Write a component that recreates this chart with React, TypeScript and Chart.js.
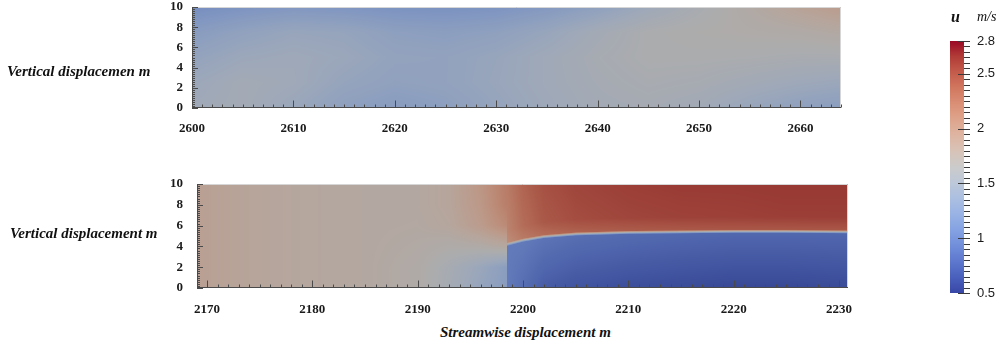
import React, { useEffect, useRef } from "react";
import { Chart, registerables } from "chart.js";

Chart.register(...registerables);

// ---------- data ----------
// colour scale (u, m/s)
const uMin = 0.5;
const uMax = 2.8;
const barTicks = [0.5, 1, 1.5, 2, 2.5, 2.8];

// top panel: streamwise 2600..2664, vertical 0..10
const topXRange = [2600, 2664];
const topTicksX = [2600, 2610, 2620, 2630, 2640, 2650, 2660];
const topX = [2600, 2605, 2610, 2615, 2620, 2625, 2630, 2635, 2640, 2645, 2650, 2655, 2660, 2664];
const topY = [0, 2.5, 5, 7.5, 10];
const topU_y0 = [1.5, 1.54, 1.44, 1.33, 1.28, 1.32, 1.4, 1.48, 1.54, 1.56, 1.52, 1.42, 1.34, 1.3];
const topU_y25 = [1.46, 1.54, 1.5, 1.4, 1.35, 1.37, 1.43, 1.5, 1.56, 1.6, 1.58, 1.53, 1.48, 1.45];
const topU_y5 = [1.38, 1.46, 1.49, 1.45, 1.38, 1.37, 1.42, 1.5, 1.58, 1.63, 1.63, 1.62, 1.6, 1.6];
const topU_y75 = [1.28, 1.36, 1.42, 1.4, 1.33, 1.31, 1.34, 1.42, 1.54, 1.63, 1.66, 1.68, 1.7, 1.74];
const topU_y10 = [1.12, 1.18, 1.22, 1.2, 1.17, 1.16, 1.18, 1.24, 1.34, 1.48, 1.6, 1.72, 1.84, 1.92];

// bottom panel: streamwise 2169..2231, vertical 0..10
const botXRange = [2169.05, 2230.85];
const botTicksX = [2170, 2180, 2190, 2200, 2210, 2220, 2230];
// smooth field upstream of the jet edge
const bgX = [2169, 2172, 2175, 2180, 2185, 2190, 2193, 2196, 2198.5];
const bgY = [0, 2, 4, 6, 8, 10];
const bgU_y0 = [1.87, 1.83, 1.8, 1.77, 1.75, 1.7, 1.56, 1.4, 1.28];
const bgU_y2 = [1.87, 1.83, 1.8, 1.77, 1.75, 1.7, 1.58, 1.44, 1.3];
const bgU_y4 = [1.87, 1.83, 1.8, 1.77, 1.75, 1.72, 1.68, 1.7, 1.76];
const bgU_y6 = [1.87, 1.83, 1.8, 1.77, 1.75, 1.74, 1.78, 1.92, 2.1];
const bgU_y8 = [1.87, 1.83, 1.8, 1.77, 1.75, 1.75, 1.8, 1.96, 2.2];
const bgU_y10 = [1.87, 1.83, 1.8, 1.77, 1.75, 1.75, 1.8, 1.98, 2.22];
// two-layer region downstream
const jetX = [2198.5, 2200, 2202, 2205, 2210, 2215, 2220, 2225, 2231];
const jetH = [4.1, 4.5, 4.85, 5.1, 5.25, 5.3, 5.35, 5.35, 5.3];
const jetUpperNear = [2.05, 2.2, 2.3, 2.36, 2.4, 2.42, 2.43, 2.43, 2.43];
const jetUpperMid = [2.15, 2.32, 2.45, 2.52, 2.56, 2.58, 2.59, 2.6, 2.6];
const jetUpperTop = [2.22, 2.38, 2.5, 2.56, 2.6, 2.62, 2.62, 2.63, 2.63];
const jetLowerNear = [0.95, 0.95, 0.9, 0.86, 0.83, 0.81, 0.8, 0.8, 0.8];
const jetLowerBottom = [0.95, 0.85, 0.72, 0.66, 0.62, 0.6, 0.58, 0.58, 0.6];

const yTicks = [0, 2, 4, 6, 8, 10];

// cool-to-warm colour map stops (t, r, g, b)
const coolWarmT = [0, 0.0625, 0.125, 0.1875, 0.25, 0.3125, 0.375, 0.4375, 0.5, 0.5625, 0.625, 0.6875, 0.75, 0.8125, 0.875, 0.9375, 1];
const coolWarmR = [59, 77, 98, 119, 141, 163, 184, 204, 221, 236, 245, 247, 244, 236, 222, 203, 180];
const coolWarmG = [76, 104, 130, 154, 176, 194, 208, 217, 221, 211, 196, 177, 154, 127, 96, 62, 4];
const coolWarmB = [192, 215, 234, 247, 254, 255, 249, 238, 221, 197, 173, 148, 123, 99, 77, 56, 38];

// ---------- helpers ----------
const topU = [topU_y0, topU_y25, topU_y5, topU_y75, topU_y10];
const bgU = [bgU_y0, bgU_y2, bgU_y4, bgU_y6, bgU_y8, bgU_y10];

function seg(xs: number[], v: number): [number, number] {
  if (v <= xs[0]) return [0, 0];
  const n = xs.length - 1;
  if (v >= xs[n]) return [n - 1, 1];
  let i = 0;
  while (i < n - 1 && v > xs[i + 1]) i++;
  return [i, (v - xs[i]) / (xs[i + 1] - xs[i])];
}
function lerp1(xs: number[], vs: number[], v: number) {
  const [i, t] = seg(xs, v);
  return vs[i] + (vs[i + 1] - vs[i]) * t;
}
function bilinear(xs: number[], ys: number[], g: number[][], x: number, y: number) {
  const [j, ty] = seg(ys, y);
  const a = lerp1(xs, g[j], x);
  const b = lerp1(xs, g[j + 1], x);
  return a + (b - a) * ty;
}
function colorOf(u: number): [number, number, number] {
  const t = Math.min(1, Math.max(0, (u - uMin) / (uMax - uMin)));
  return [lerp1(coolWarmT, coolWarmR, t), lerp1(coolWarmT, coolWarmG, t), lerp1(coolWarmT, coolWarmB, t)];
}
function shaded(u: number, desat: number, shade: number): [number, number, number] {
  const [r, g, b] = colorOf(u);
  const l = 0.3 * r + 0.59 * g + 0.11 * b;
  return [
    (r * (1 - desat) + l * desat) * shade,
    (g * (1 - desat) + l * desat) * shade,
    (b * (1 - desat) + l * desat) * shade,
  ];
}

function topField(x: number, y: number) {
  return bilinear(topX, topY, topU, x, y);
}
function botField(x: number, y: number) {
  if (x < jetX[0]) return bilinear(bgX, bgY, bgU, x, y);
  const h = lerp1(jetX, jetH, x);
  const lN = lerp1(jetX, jetLowerNear, x);
  const lB = lerp1(jetX, jetLowerBottom, x);
  const uN = lerp1(jetX, jetUpperNear, x);
  const uM = lerp1(jetX, jetUpperMid, x);
  const uT = lerp1(jetX, jetUpperTop, x);
  const lower = y <= h ? lB + (lN - lB) * (y / h) : lN;
  const d = y - h;
  let upper = uN;
  if (d > 0 && d < 1.5) upper = uN + (uM - uN) * (d / 1.5);
  else if (d >= 1.5) upper = uM + (uT - uM) * Math.min(1, (d - 1.5) / Math.max(0.1, 10 - h - 1.5));
  const t = Math.min(1, Math.max(0, (y - h + 0.08) / 0.35));
  return lower + (upper - lower) * t;
}

const serifFont = "'Liberation Serif', 'Times New Roman', serif";
const sansFont = "'Liberation Sans', Arial, sans-serif";

const PANEL_DESAT = 0.12;
const PANEL_SHADE = 0.78;

function heatPlugin(id: string, field: (x: number, y: number) => number) {
  return {
    id,
    beforeDatasetsDraw(chart: any) {
      const { ctx, chartArea } = chart;
      const xs = chart.scales.x;
      const ys = chart.scales.y;
      const left = Math.round(chartArea.left);
      const top = Math.round(chartArea.top);
      const w = Math.round(chartArea.right) - left;
      const h = Math.round(chartArea.bottom) - top;
      const img = ctx.createImageData(w, h);
      for (let j = 0; j < h; j++) {
        const yv = ys.getValueForPixel(top + j + 0.5);
        for (let i = 0; i < w; i++) {
          const xv = xs.getValueForPixel(left + i + 0.5);
          const [r, g, b] = shaded(field(xv, yv), PANEL_DESAT, PANEL_SHADE);
          const k = (j * w + i) * 4;
          img.data[k] = r;
          img.data[k + 1] = g;
          img.data[k + 2] = b;
          img.data[k + 3] = 255;
        }
      }
      ctx.putImageData(img, left, top);
    },
    afterDraw(chart: any) {
      const { ctx, chartArea } = chart;
      const xs = chart.scales.x;
      const ys = chart.scales.y;
      const L = Math.round(chartArea.left);
      const R = Math.round(chartArea.right);
      const T = Math.round(chartArea.top);
      const B = Math.round(chartArea.bottom);
      ctx.save();
      ctx.lineWidth = 1;
      ctx.strokeStyle = "#d6d6d6";
      ctx.beginPath();
      ctx.moveTo(L, T + 0.5);
      ctx.lineTo(R - 0.5, T + 0.5);
      ctx.lineTo(R - 0.5, B);
      ctx.stroke();
      ctx.strokeStyle = "#4a4a4a";
      ctx.beginPath();
      ctx.moveTo(L, B - 0.5);
      ctx.lineTo(R, B - 0.5);
      ctx.moveTo(L + 0.5, T);
      ctx.lineTo(L + 0.5, B);
      for (let v = Math.ceil(xs.min); v <= xs.max; v++) {
        const px = Math.round(xs.getPixelForValue(v)) + 0.5;
        const len = v % 10 === 0 ? 7 : 3;
        ctx.moveTo(px, B - 0.5);
        ctx.lineTo(px, B - 0.5 - len);
      }
      for (let k = 0; k <= 50; k++) {
        const v = k * 0.2;
        const py = Math.round(ys.getPixelForValue(v)) + 0.5;
        const len = k % 10 === 0 ? 6 : 3;
        ctx.moveTo(L, py);
        ctx.lineTo(L + len, py);
      }
      ctx.stroke();
      ctx.restore();
    },
  };
}

function zeroPad(s: any) {
  s.paddingTop = 0;
  s.paddingBottom = 0;
  s.paddingLeft = 0;
  s.paddingRight = 0;
}

function panelConfig(
  xRange: number[],
  xTicks: number[],
  pad: { left: number; right: number; top: number },
  yWidth: number,
  xHeight: number,
  xPad: number,
  yPad: number,
  plugin: any
): any {
  return {
    type: "scatter",
    data: { datasets: [{ data: [] }] },
    options: {
      animation: false,
      responsive: false,
      events: [],
      layout: { padding: { left: pad.left, right: pad.right, top: pad.top, bottom: 0 } },
      plugins: { legend: { display: false }, tooltip: { enabled: false } },
      scales: {
        x: {
          type: "linear",
          min: xRange[0],
          max: xRange[1],
          afterBuildTicks: (s: any) => {
            s.ticks = xTicks.map((v) => ({ value: v }));
          },
          afterFit: (s: any) => {
            s.height = xHeight;
            zeroPad(s);
          },
          grid: { display: false, drawTicks: false },
          border: { display: false },
          ticks: {
            autoSkip: false,
            maxRotation: 0,
            padding: xPad,
            color: "#1a1a1a",
            font: { family: serifFont, size: 13, weight: "bold" },
            callback: (v: any) => String(v),
          },
        },
        y: {
          type: "linear",
          min: 0,
          max: 10,
          afterBuildTicks: (s: any) => {
            s.ticks = yTicks.map((v) => ({ value: v }));
          },
          afterFit: (s: any) => {
            s.width = yWidth;
            zeroPad(s);
          },
          grid: { display: false, drawTicks: false },
          border: { display: false },
          ticks: {
            autoSkip: false,
            padding: yPad,
            color: "#1a1a1a",
            font: { family: serifFont, size: 13, weight: "bold" },
            callback: (v: any) => String(v),
          },
        },
      },
    },
    plugins: [plugin],
  };
}

const colorbarPlugin = {
  id: "colorbar",
  beforeDatasetsDraw(chart: any) {
    const { ctx, chartArea } = chart;
    const ys = chart.scales.y;
    const L = Math.round(chartArea.left);
    const R = Math.round(chartArea.right);
    const T = Math.round(chartArea.top);
    const B = Math.round(chartArea.bottom);
    for (let py = T; py < B; py++) {
      const [r, g, b] = shaded(ys.getValueForPixel(py + 0.5), 0.1, 0.92);
      ctx.fillStyle = `rgb(${Math.round(r)},${Math.round(g)},${Math.round(b)})`;
      ctx.fillRect(L, py, R - L, 1);
    }
  },
  afterDraw(chart: any) {
    const { ctx, chartArea } = chart;
    const ys = chart.scales.y;
    const R = Math.round(chartArea.right);
    ctx.save();
    ctx.strokeStyle = "#3a3a3a";
    ctx.lineWidth = 1;
    ctx.beginPath();
    for (let k = 0; k <= 46; k++) {
      const v = uMin + k * 0.05;
      const py = Math.round(ys.getPixelForValue(v)) + 0.5;
      const major = barTicks.some((m) => Math.abs(m - v) < 1e-6);
      ctx.moveTo(major ? R - 6 : R, py);
      ctx.lineTo(R + 6, py);
    }
    ctx.stroke();
    ctx.restore();
  },
};

export default function App() {
  const topRef = useRef<HTMLCanvasElement>(null);
  const botRef = useRef<HTMLCanvasElement>(null);
  const barRef = useRef<HTMLCanvasElement>(null);

  useEffect(() => {
    const charts: Chart[] = [];
    if (topRef.current) {
      charts.push(
        new Chart(
          topRef.current,
          panelConfig(topXRange, topTicksX, { left: 142, right: 159, top: 7 }, 50, 32, 13, 9, heatPlugin("topHeat", topField))
        )
      );
    }
    if (botRef.current) {
      charts.push(
        new Chart(
          botRef.current,
          panelConfig(botXRange, botTicksX, { left: 147, right: 152, top: 14 }, 50, 32, 14, 14, heatPlugin("botHeat", botField))
        )
      );
    }
    if (barRef.current) {
      charts.push(
        new Chart(barRef.current, {
          type: "scatter",
          data: { datasets: [{ data: [] }] },
          options: {
            animation: false,
            responsive: false,
            events: [],
            layout: { padding: { left: 50, right: 0, top: 41, bottom: 17 } },
            plugins: { legend: { display: false }, tooltip: { enabled: false } },
            scales: {
              x: { display: false, min: 0, max: 1 },
              y: {
                position: "right",
                min: uMin,
                max: uMax,
                afterBuildTicks: (s: any) => {
                  s.ticks = barTicks.map((v) => ({ value: v }));
                },
                afterFit: (s: any) => {
                  s.width = 36;
                  zeroPad(s);
                },
                grid: { display: false, drawTicks: false },
                border: { display: false },
                ticks: {
                  autoSkip: false,
                  padding: 13,
                  color: "#1a1a1a",
                  font: { family: sansFont, size: 13 },
                  callback: (v: any) => String(v),
                },
              },
            },
          } as any,
          plugins: [colorbarPlugin],
        } as any)
      );
    }
    return () => charts.forEach((c) => c.destroy());
  }, []);

  const label = (text: string, left: number, top: number, size: number, extra: any = {}) => (
    <div
      style={{
        position: "absolute",
        left,
        top,
        fontFamily: serifFont,
        fontStyle: "italic",
        fontWeight: "bold",
        fontSize: size,
        lineHeight: `${size}px`,
        color: "#111",
        whiteSpace: "nowrap",
        ...extra,
      }}
    >
      {text}
    </div>
  );

  return (
    <div style={{ position: "absolute", left: 0, top: 0, width: 1000, height: 350, background: "#fff", overflow: "hidden" }}>
      <canvas ref={topRef} width={1000} height={140} style={{ position: "absolute", left: 0, top: 0, width: 1000, height: 140 }} />
      <canvas ref={botRef} width={1000} height={150} style={{ position: "absolute", left: 0, top: 170, width: 1000, height: 150 }} />
      <canvas ref={barRef} width={100} height={310} style={{ position: "absolute", left: 900, top: 0, width: 100, height: 310 }} />
      {label("Vertical displacemen m", 7, 64, 15)}
      {label("Vertical displacement m", 10, 226, 15)}
      {label("Streamwise displacement m", 440, 325, 15)}
      {label("u", 951, 9, 16)}
      {label("m/s", 977, 10, 14, { fontWeight: "normal" })}
    </div>
  );
}
